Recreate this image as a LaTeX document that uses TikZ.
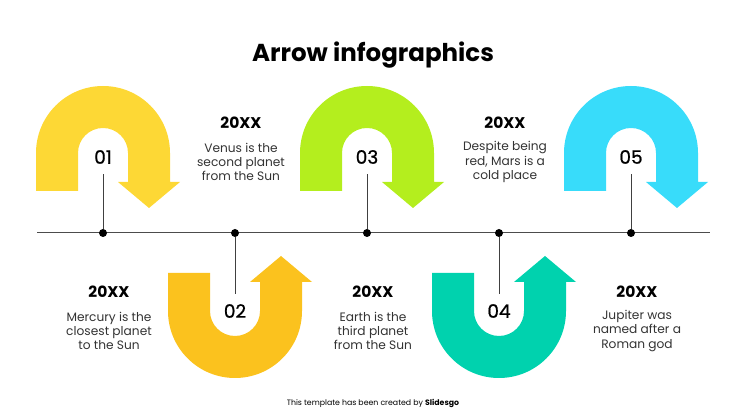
\documentclass[tikz,border=0pt]{standalone}
\usepackage{fontspec}
\setmainfont{Poppins}
\definecolor{arrowA}{HTML}{FDD835}
\definecolor{arrowB}{HTML}{FBC21E}
\definecolor{arrowC}{HTML}{B4EE1E}
\definecolor{arrowD}{HTML}{00D2AE}
\definecolor{arrowE}{HTML}{38DCFA}
\usetikzlibrary{positioning}

\tikzset{
  uturn/.pic={
    \fill (-67,-38) -- (-67,0) arc[start angle=180,end angle=0,radius=67]
      -- (67,-29) -- (77,-29) -- (46,-55) -- (15,-29) -- (25,-29)
      -- (25,0) arc[start angle=0,end angle=180,radius=25]
      -- (-25,-38) -- cycle;
  }
}

\begin{document}
\begin{tikzpicture}[x=1pt,y=1pt,
    dot/.style={circle,fill=black,inner sep=0pt,minimum size=8pt},
    num/.style={font=\fontsize{18.5}{18.5}\selectfont\addfontfeature{FakeBold=0.8},
                minimum height=34pt,inner sep=0pt},
    stem/.style={draw=black!75,line width=0.9pt},
    timeline/.style={draw=black!70,line width=1pt},
    year/.style={font=\bfseries\fontsize{15.5}{15.5}\selectfont},
    info/.style={align=center,text=black!80,font=\fontsize{12.2}{14.2}\selectfont},
  ]

    \useasboundingbox (0,0) rectangle (747,420);

    % Title
    \node[font=\bfseries\fontsize{24.5}{24.5}\selectfont] (title) at (373,365)
      {Arrow infographics};

    % U-turn arrows
    \foreach \x/\y/\s/\c in {103/267/1/arrowA,235/109/-1/arrowB,
        367/267/1/arrowC,499/109/-1/arrowD,631/267/1/arrowE}
      \pic[fill=\c,yscale=\s] at (\x,\y) {uturn};

    % Timeline
    \coordinate (tl) at (37,187);
    \coordinate (tr) at (710,187);
    \draw[timeline] (tl) -- (tr);

    % Points and numbers
    \foreach \i/\x/\y in {1/103/263,2/235/109,3/367/263,4/499/109,5/631/263}{
      \node[dot] (d\i) at (\x,187) {};
      \node[num] (n\i) at (\x,\y) {0\i};
      \draw[stem] (d\i) -- (n\i);
    }

    % Texts above the line
    \node[year] (y2) at (241,297) {20XX};
    \node[info] (t2) at (241,258) {Venus is the\\second planet\\from the Sun};
    \node[year] (y4) at (505,297) {20XX};
    \node[info] (t4) at (505,258) {Despite being\\red, Mars is a\\cold place};

    % Texts below the line
    \node[year] (y1) at (109,128) {20XX};
    \node[info] (t1) at (109,89) {Mercury is the\\closest planet\\to the Sun};
    \node[year] (y3) at (373,128) {20XX};
    \node[info] (t3) at (373,89) {Earth is the\\third planet\\from the Sun};
    \node[year] (y5) at (637,128) {20XX};
    \node[info] (t5) at (637,89) {Jupiter was\\named after a\\Roman god};

    % Footer
    \node[font=\fontsize{7.8}{8}\selectfont] (foot) at (373,17)
      {This template has been created by \textbf{Slidesgo}};

  \end{tikzpicture}
\end{document}
